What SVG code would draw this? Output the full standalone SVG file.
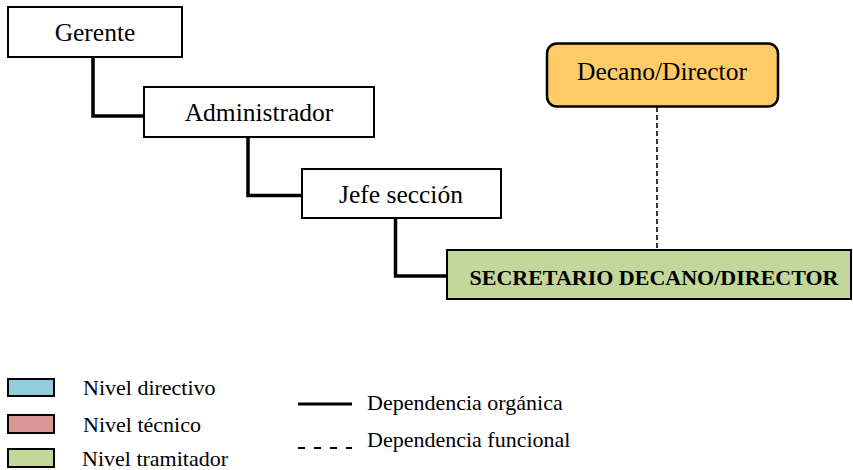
<svg xmlns="http://www.w3.org/2000/svg" width="853" height="470" viewBox="0 0 853 470">
<style>
.box{stroke:#000;stroke-width:2;}
.t{font-family:"Liberation Serif","Times New Roman",serif;fill:#000;}
.bt{font-size:25.5px;text-anchor:middle;}
.lt{font-size:22px;}
.org{fill:none;stroke:#000;stroke-width:3.5;stroke-linejoin:miter;}
.fun{fill:none;stroke:#000;stroke-width:1.6;stroke-dasharray:5 3;}
</style>
<rect width="853" height="470" fill="#fff"/>
<g id="connectors">
<polyline class="org" points="93,57 93,116 144,116"/>
<polyline class="org" points="248,137 248,195.5 302,195.5"/>
<polyline class="org" points="395.5,218 395.5,276 447,276"/>
<line class="fun" x1="657" y1="107" x2="657" y2="250"/>
</g>
<g id="gerente">
<rect class="box" x="8" y="7" width="174" height="50" fill="#fff"/>
<text class="t bt" x="95" y="41">Gerente</text>
</g>
<g id="administrador">
<rect class="box" x="144" y="87" width="230" height="50" fill="#fff"/>
<text class="t bt" x="259" y="121">Administrador</text>
</g>
<g id="jefe">
<rect class="box" x="302" y="169" width="199" height="49" fill="#fff"/>
<text class="t bt" x="401" y="203">Jefe sección</text>
</g>
<g id="decano">
<rect x="547" y="43.5" width="231" height="63" rx="10" fill="#FECB66" stroke="#000" stroke-width="2.5"/>
<text class="t bt" x="662" y="80">Decano/Director</text>
</g>
<g id="secretario">
<rect class="box" x="447" y="250" width="404" height="49" fill="#C4D79B"/>
<text class="t" x="654" y="285" font-size="22" font-weight="bold" text-anchor="middle">SECRETARIO DECANO/DIRECTOR</text>
</g>
<g id="legend">
<rect class="box" x="8" y="379" width="46" height="17" fill="#92CDDC"/>
<rect class="box" x="8" y="415" width="46" height="18" fill="#DA9694"/>
<rect class="box" x="8" y="449" width="46" height="18" fill="#C4D79B"/>
<text class="t lt" x="83" y="395">Nivel directivo</text>
<text class="t lt" x="83" y="432">Nivel técnico</text>
<text class="t lt" x="82" y="466">Nivel tramitador</text>
<line x1="298" y1="404" x2="352" y2="404" stroke="#000" stroke-width="3"/>
<line x1="298" y1="448" x2="352" y2="448" stroke="#000" stroke-width="2" stroke-dasharray="7 9"/>
<text class="t lt" x="367" y="410">Dependencia orgánica</text>
<text class="t lt" x="367" y="447">Dependencia funcional</text>
</g>
</svg>
